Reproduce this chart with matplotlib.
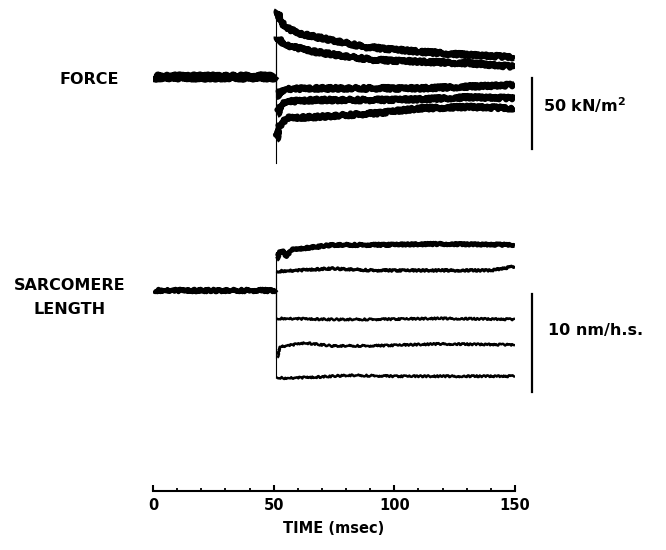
import matplotlib
matplotlib.use('Agg')
import matplotlib.pyplot as plt

W, H = 666, 550

# time of the length step (ms)
t_step = 51.0

# FORCE traces, kN/m^2 relative to isometric level
force_base_t = [0.0, t_step]
force_base = [0.0, 0.0]
force_t = [
    [51.5, 52.6, 54.7, 60.2, 74, 88, 110.6, 131, 150],
    [51.2, 54.7, 67, 81, 92, 110.6, 131, 150],
    [51.2, 52.5, 55, 67, 92, 110.6, 131, 150],
    [51.5, 52.5, 55, 67, 92, 110.6, 131, 150],
    [51.2, 52, 55.7, 67, 92, 110.6, 131, 150],
]
force_vals = [
    [46.9, 40.6, 35.0, 30.5, 25.8, 20.9, 17.6, 15.3, 13.7],
    [28.2, 22.3, 17.6, 14.1, 11.8, 10.6, 9.4, 7.0],
    [-14.3, -10.8, -8.7, -8.2, -8.2, -8.2, -7.0, -5.8],
    [-27.0, -21.3, -17.6, -16.4, -16.4, -15.9, -14.5, -15.2],
    [-44.6, -35.4, -29.1, -28.4, -25.8, -22.3, -21.3, -22.3],
]
force_peaks = [46.9, 28.2, -14.3, -27.0, -60.8]

# SARCOMERE LENGTH traces, nm per half sarcomere relative to start
sl_base_t = [0.0, t_step]
sl_base = [0.0, 0.0]
sl_t = [
    [51.2, 52.5, 54, 55.3, 57.4, 74, 91, 119, 150],
    [51.2, 60, 74, 91, 119, 140, 150],
    [51.2, 74, 91, 119, 150],
    [51.5, 52.5, 63, 74, 91, 119, 150],
    [51.2, 54.4, 67, 81, 100, 130, 150],
]
sl_vals = [
    [3.1, 3.9, 4.0, 3.4, 4.1, 4.6, 4.6, 4.7, 4.6],
    [1.9, 2.0, 2.2, 2.0, 2.0, 2.0, 2.4],
    [-2.9, -3.0, -3.0, -2.9, -3.0],
    [-6.9, -5.8, -5.4, -5.7, -5.7, -5.5, -5.6],
    [-8.9, -9.0, -8.9, -8.7, -8.8, -8.8, -8.8],
]
sl_peaks = [3.9, 1.9, -2.9, -6.9, -8.9]
sl_widths = [3.4, 2.2, 1.8, 1.8, 1.8]

time_ticks = [0, 50, 100, 150]
time_minor = list(range(0, 151, 10))

# pixel geometry of the original figure
x0_px, x1_px = 153, 515
px_per_kn = 1.42
px_per_nm = 9.8
force_base_px = 76.7
sl_base_px = 290


def px_axes(fig, xa, ya, xb, yb):
    return fig.add_axes([xa / W, 1 - yb / H, (xb - xa) / W, (yb - ya) / H])


fig = plt.figure(figsize=(W / 100, H / 100), dpi=100)
font = dict(family='DejaVu Sans', weight='bold')
noisy = (1.6, 2.5, 3)   # sketch look of the oscilloscope traces

# --- force panel
axf = px_axes(fig, x0_px, 0, x1_px, 176)
axf.set_xlim(0, 150)
axf.set_ylim(-(176 - force_base_px) / px_per_kn, force_base_px / px_per_kn)
axf.axis('off')

ln, = axf.plot(force_base_t, force_base, color='black', lw=5.8, solid_capstyle='butt')
ln.set_sketch_params(*noisy)
for t, v, pk in zip(force_t, force_vals, force_peaks):
    axf.plot([t_step, t_step], [0, pk], color='black', lw=0.8)
    ln, = axf.plot(t, v, color='black', lw=4.2, solid_capstyle='butt', solid_joinstyle='round')
    ln.set_sketch_params(*noisy)

# scale bar 50 kN/m2
axf.plot([156.9, 156.9], [-1, -51], color='black', lw=1.6, clip_on=False)
axf.text(161.6, -19.9, r'50 kN/m$^{\mathbf{2}}$', va='center', ha='left', fontsize=11.5, **font)

# --- sarcomere length panel
axs = px_axes(fig, x0_px, 200, x1_px, 440)
axs.set_xlim(0, 150)
axs.set_ylim(-(440 - sl_base_px) / px_per_nm, (sl_base_px - 200) / px_per_nm)
axs.axis('off')

ln, = axs.plot(sl_base_t, sl_base, color='black', lw=3.6, solid_capstyle='butt')
ln.set_sketch_params(1.3, 2.5, 3)
for t, v, pk, w in zip(sl_t, sl_vals, sl_peaks, sl_widths):
    axs.plot([t_step, t_step], [0, pk], color='black', lw=0.8)
    ln, = axs.plot(t, v, color='black', lw=w, solid_capstyle='butt')
    ln.set_sketch_params(0.9, 2.5, 3)

# scale bar 10 nm/h.s.
axs.plot([156.9, 156.9], [-0.4, -10.4], color='black', lw=1.6, clip_on=False)
axs.text(163.7, -4.1, '10 nm/h.s.', va='center', ha='left', fontsize=11.5, **font)

# --- panel labels
fig.text(89.5 / W, 1 - 79 / H, 'FORCE', ha='center', va='center', fontsize=11.5, **font)
fig.text(70 / W, 1 - 285 / H, 'SARCOMERE', ha='center', va='center', fontsize=11.5, **font)
fig.text(70 / W, 1 - 310 / H, 'LENGTH', ha='center', va='center', fontsize=11.5, **font)

# --- time axis
axt = px_axes(fig, x0_px, 470, x1_px, 490.7)
axt.set_xlim(0, 150)
axt.set_ylim(0, 1)
axt.set_facecolor('none')
for s in ['top', 'left', 'right']:
    axt.spines[s].set_visible(False)
axt.spines['bottom'].set_linewidth(1.5)
axt.set_yticks([])
axt.set_xticks(time_ticks)
axt.set_xticks(time_minor, minor=True)
axt.tick_params(axis='x', which='major', direction='in', length=4.5, width=1.5, pad=5)
axt.tick_params(axis='x', which='minor', direction='in', length=2.5, width=1.3)
axt.set_xticklabels([str(v) for v in time_ticks], fontsize=10.5, **font)
axt.set_xlabel('TIME (msec)', fontsize=10.5, labelpad=6, **font)

fig.savefig('out.png', dpi=100, facecolor='white')
